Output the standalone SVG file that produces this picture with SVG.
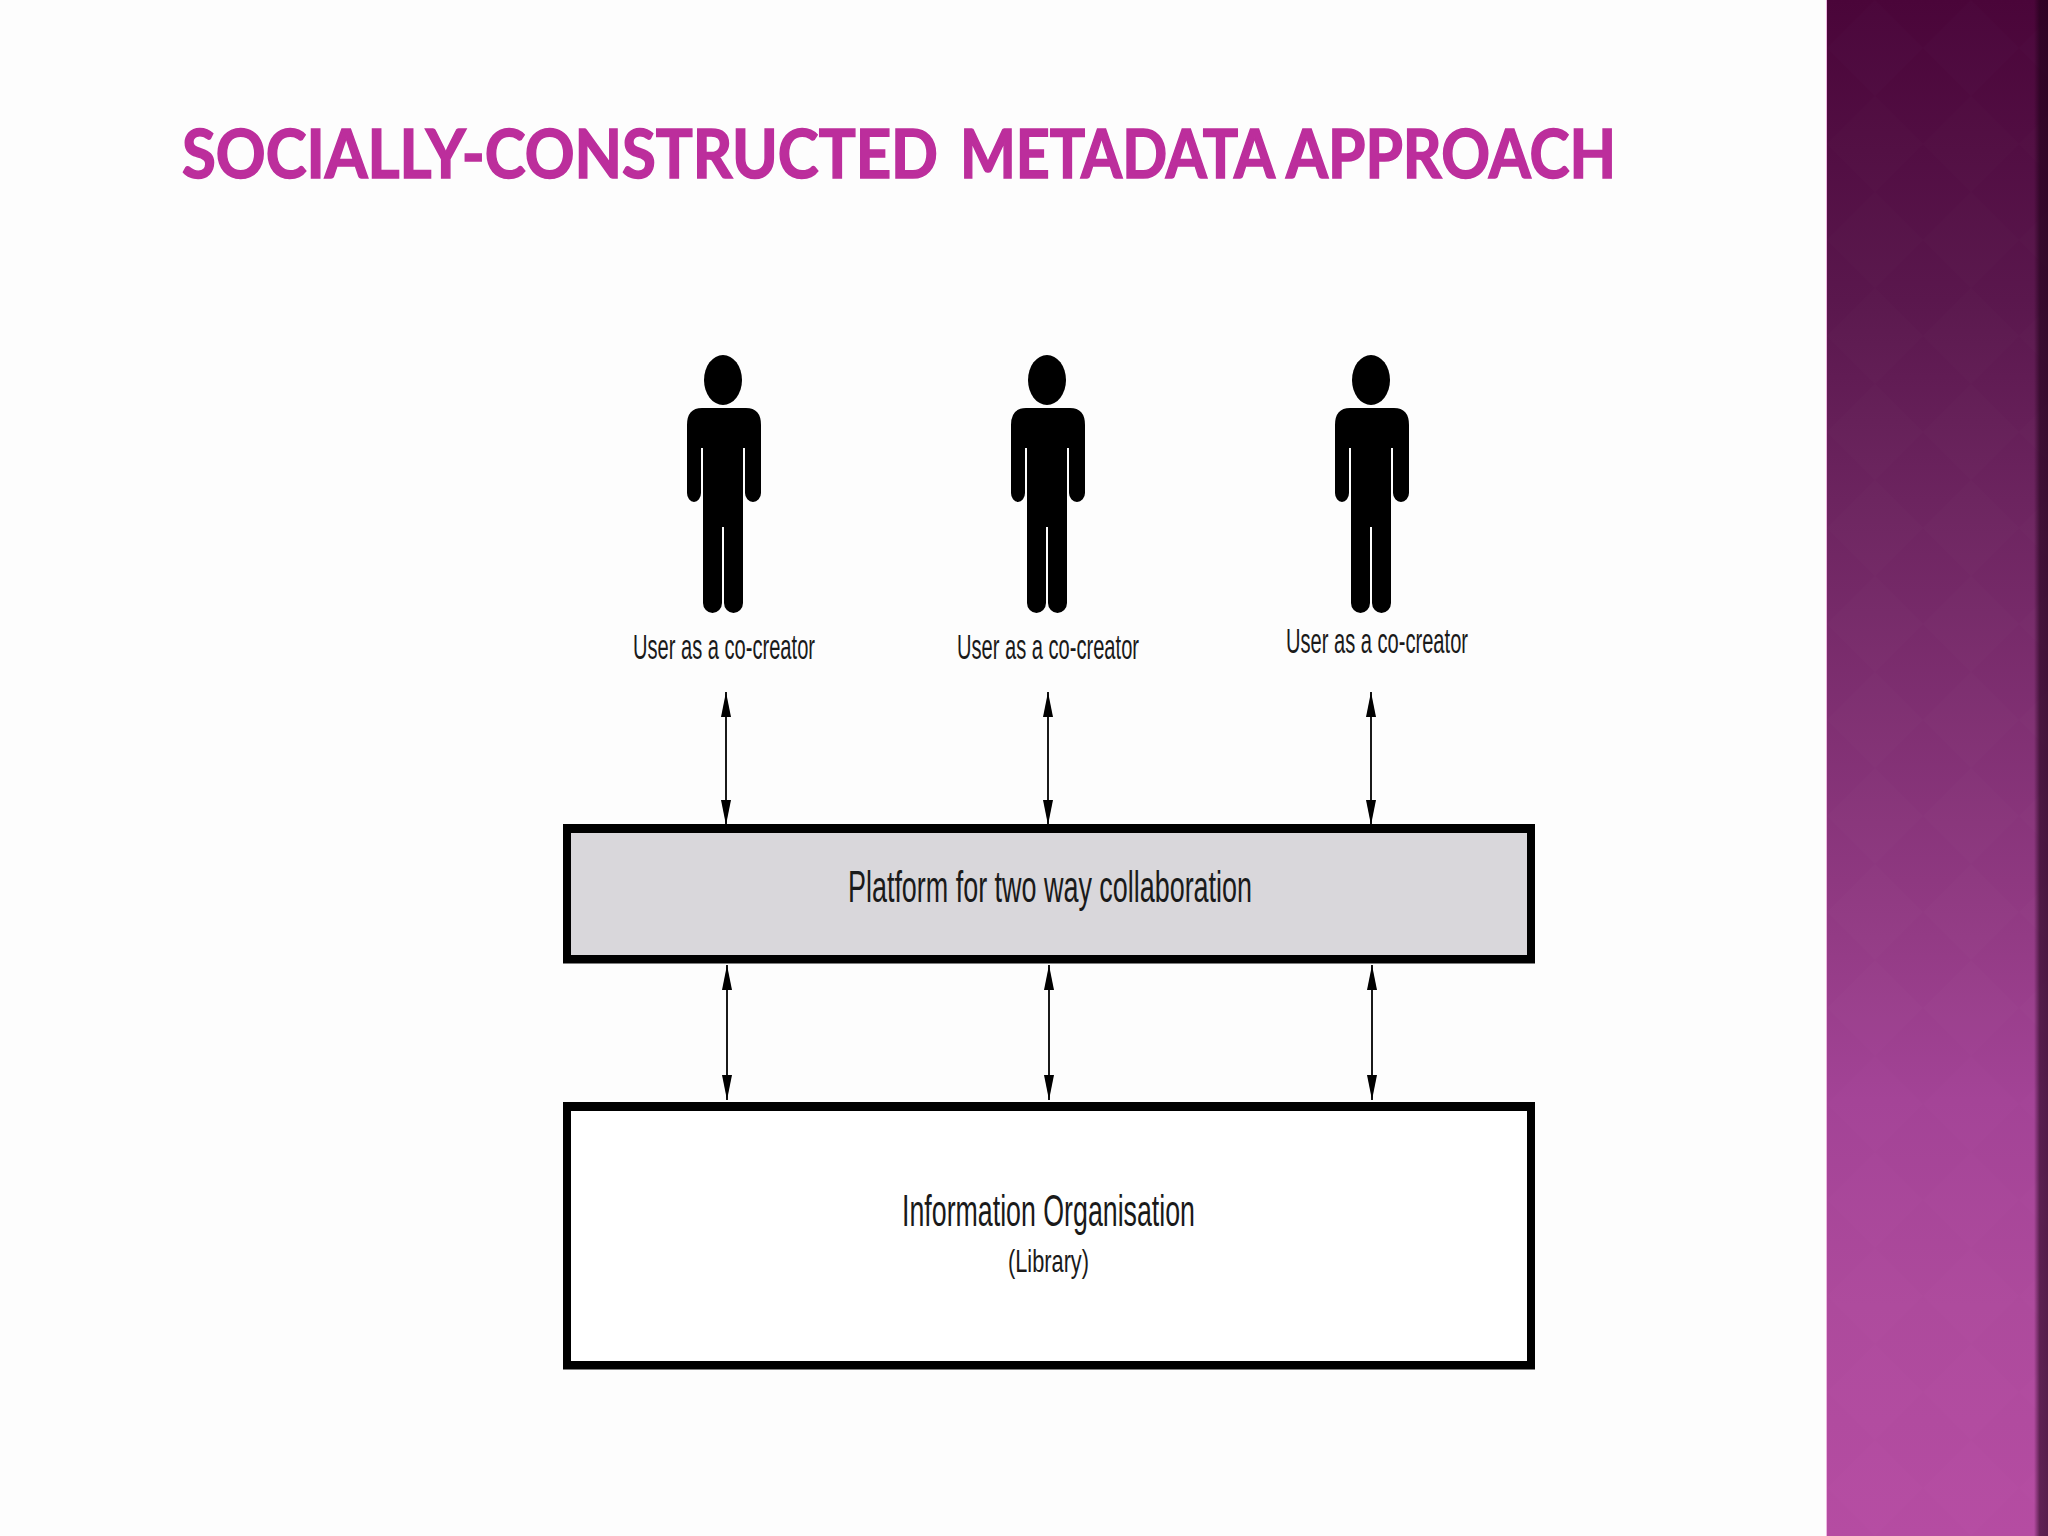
<svg xmlns="http://www.w3.org/2000/svg" width="2048" height="1536" viewBox="0 0 2048 1536">
<style>
.t{font-family:"Liberation Sans Narrow","Liberation Sans",sans-serif;fill:#1a1a1a}
.c{stroke:#000;stroke-width:1.800;fill:none;marker-start:url(#ah);marker-end:url(#ah)}
</style>
<defs>
<linearGradient id="side" x1="0" y1="0" x2="0" y2="1">
<stop offset="0" stop-color="#4a0539"/><stop offset="0.195" stop-color="#5a174d"/><stop offset="0.325" stop-color="#6c245f"/><stop offset="0.61" stop-color="#933b85"/><stop offset="0.716" stop-color="#a34396"/><stop offset="0.85" stop-color="#ad4a9c"/><stop offset="1" stop-color="#b54ca2"/>
</linearGradient>
<linearGradient id="edge" x1="0" y1="0" x2="1" y2="0">
<stop offset="0" stop-color="#1a0014" stop-opacity="0"/><stop offset="0.4" stop-color="#1a0014" stop-opacity=".55"/><stop offset="1" stop-color="#1a0014" stop-opacity=".6"/>
</linearGradient>
<pattern id="diamonds" patternUnits="userSpaceOnUse" x="1827" y="0" width="96" height="96"><path d="M48 0L96 48L48 96L0 48Z" fill="#fff" opacity=".007"/></pattern>
<marker id="ah" markerUnits="userSpaceOnUse" markerWidth="26" markerHeight="10" refX="25" refY="5" orient="auto-start-reverse" viewBox="0 0 26 10"><path d="M0 0L25 5L0 10Z" fill="#000"/></marker>
<symbol id="person" viewBox="0 0 74 260" width="74" height="260" overflow="visible">
<ellipse cx="36" cy="25" rx="19" ry="25"/>
<path d="M15 53H59Q74 53 74 70V138A8 9 0 0 1 58 138V93H56V248A9.500 10 0 0 1 37 248V172H35V248A9.500 10 0 0 1 16 248V93H14V138A7 9 0 0 1 0 138V70Q0 53 15 53Z"/>
</symbol>
</defs>
<rect id="bg" width="2048" height="1536" fill="#fdfdfd"/>
<rect id="sidebar" x="1827" width="221" height="1536" fill="url(#side)"/>
<rect x="1827" width="221" height="1536" fill="url(#diamonds)"/>
<rect x="2034" width="14" height="1536" fill="url(#edge)"/>
<rect x="1826" width="1" height="1536" fill="#eeb6e2"/>
<text id="title" y="178" font-family="Lato,'Open Sans',sans-serif" font-weight="700" font-size="66" fill="#bc2e9c" stroke="#bc2e9c" stroke-width="1.500"><tspan x="182" textLength="756" lengthAdjust="spacingAndGlyphs">SOCIALLY-CONSTRUCTED</tspan> <tspan x="960" textLength="313" lengthAdjust="spacingAndGlyphs">METADATA</tspan> <tspan x="1286" textLength="330" lengthAdjust="spacingAndGlyphs">APPROACH</tspan></text>
<g id="user1"><use href="#person" x="687" y="355"/><text class="t" x="633" y="659" font-size="35" textLength="182" lengthAdjust="spacingAndGlyphs">User as a co-creator</text></g>
<g id="user2"><use href="#person" x="1011" y="355"/><text class="t" x="957" y="659" font-size="35" textLength="182" lengthAdjust="spacingAndGlyphs">User as a co-creator</text></g>
<g id="user3"><use href="#person" x="1335" y="355"/><text class="t" x="1286" y="653" font-size="35" textLength="182" lengthAdjust="spacingAndGlyphs">User as a co-creator</text></g>
<g id="platform"><rect x="563" y="824" width="972" height="139.500" fill="#000"/><rect x="571" y="833" width="956" height="122" fill="#d9d7db"/><text class="t" x="848" y="902" font-size="45" textLength="404" lengthAdjust="spacingAndGlyphs">Platform for two way collaboration</text></g>
<g id="library"><rect x="563" y="1102" width="972" height="267.500" fill="#000"/><rect x="571" y="1111" width="956" height="250" fill="#fff"/><text class="t" x="902" y="1226" font-size="45" textLength="293" lengthAdjust="spacingAndGlyphs">Information Organisation</text><text class="t" x="1008" y="1272" font-size="32" textLength="81" lengthAdjust="spacingAndGlyphs">(Library)</text></g>
<g id="connectors">
<line class="c" x1="726" y1="692" x2="726" y2="825"/>
<line class="c" x1="1048" y1="692" x2="1048" y2="825"/>
<line class="c" x1="1371" y1="692" x2="1371" y2="825"/>
<line class="c" x1="727" y1="965" x2="727" y2="1100"/>
<line class="c" x1="1049" y1="965" x2="1049" y2="1100"/>
<line class="c" x1="1372" y1="965" x2="1372" y2="1100"/>
</g>
</svg>
